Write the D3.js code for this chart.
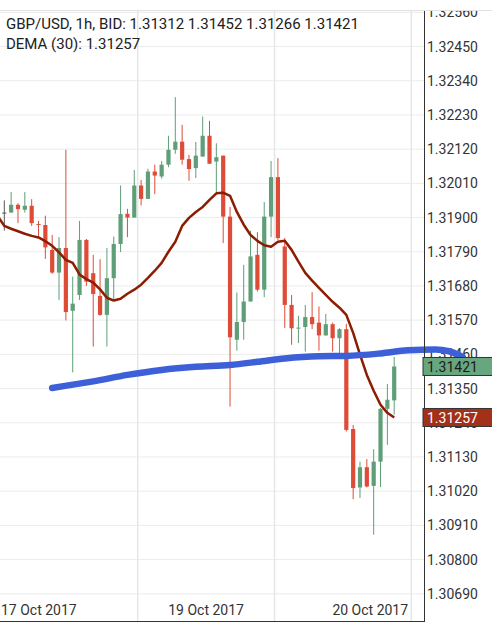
<!DOCTYPE html>
<html>
<head>
<meta charset="utf-8">
<script src="https://cdn.jsdelivr.net/npm/d3@7"></script>
<style>
  body { margin: 0; background: #fff; }
  svg { display: block; font-family: Roboto, "Noto Sans", sans-serif; }
</style>
</head>
<body>
<svg id="chart" width="492" height="625"></svg>
<script>
// GBP/USD 1h candles, first visible one starts 17 Oct 2017 18:00
const open = [1.31916,1.31916,1.31941,1.31925,1.31938,1.31879,1.31876,1.31796,1.31723,1.31802,
  1.31600,1.31651,1.31828,1.31721,1.31648,1.31587,1.31705,1.31815,1.31912,1.31900,
  1.32003,1.31960,1.32048,1.32032,1.32070,1.32118,1.32144,1.32088,1.32059,1.32096,
  1.32163,1.32080,1.32099,1.31903,1.31507,1.31564,1.31630,1.31780,1.31668,1.31903,
  1.32030,1.31807,1.31619,1.31544,1.31548,1.31580,1.31562,1.31521,1.31557,1.31512,
  1.31541,1.31220,1.31032,1.31097,1.31037,1.31115,1.31285,1.31312];
const high = [1.31955,1.31982,1.31946,1.31982,1.31959,1.31889,1.31906,1.31844,1.31837,1.32118,
  1.31710,1.31889,1.31831,1.31780,1.31766,1.31802,1.31839,1.32003,1.31928,1.32053,
  1.32021,1.32057,1.32070,1.32082,1.32163,1.32287,1.32198,1.32102,1.32143,1.32225,
  1.32211,1.32139,1.32099,1.31934,1.31659,1.31748,1.31858,1.31853,1.31950,1.32082,
  1.32091,1.31834,1.31651,1.31584,1.31619,1.31660,1.31614,1.31590,1.31562,1.31544,
  1.31558,1.31233,1.31115,1.31123,1.31155,1.31287,1.31365,1.31452];
const low = [1.31858,1.31916,1.31882,1.31916,1.31873,1.31834,1.31767,1.31719,1.31635,1.31569,
  1.31402,1.31635,1.31680,1.31485,1.31584,1.31485,1.31638,1.31789,1.31837,1.31900,
  1.31939,1.31960,1.31975,1.32025,1.32062,1.32105,1.32070,1.32018,1.32027,1.32096,
  1.32073,1.31973,1.31818,1.31292,1.31472,1.31507,1.31630,1.31662,1.31644,1.31837,
  1.31828,1.31545,1.31491,1.31496,1.31469,1.31541,1.31472,1.31520,1.31469,1.31464,
  1.31212,1.30994,1.30998,1.31032,1.30880,1.31033,1.31169,1.31266];
const close = [1.31916,1.31941,1.31927,1.31938,1.31882,1.31876,1.31804,1.31723,1.31802,1.31596,
  1.31623,1.31828,1.31694,1.31654,1.31587,1.31705,1.31815,1.31911,1.31900,1.32003,
  1.31960,1.32048,1.32035,1.32070,1.32118,1.32144,1.32086,1.32056,1.32099,1.32163,
  1.32073,1.32094,1.31903,1.31515,1.31564,1.31630,1.31775,1.31668,1.31903,1.32030,
  1.31834,1.31619,1.31544,1.31546,1.31580,1.31557,1.31521,1.31557,1.31512,1.31541,
  1.31217,1.31030,1.31097,1.31035,1.31115,1.31285,1.31314,1.31421];

// DEMA(30), starts one hour before the first visible candle
const dema = [1.31906,1.31873,1.31864,1.31856,1.31848,1.31841,1.31836,1.31824,1.31809,1.31788,
  1.31764,1.31754,1.31717,1.31702,1.31691,1.31669,1.31642,1.31633,1.31639,1.31655,
  1.31668,1.31684,1.31706,1.31729,1.31754,1.31790,1.31822,1.31873,1.31899,1.31918,
  1.31934,1.31957,1.31978,1.31980,1.31970,1.31918,1.31877,1.31844,1.31825,1.31811,
  1.31806,1.31822,1.31825,1.31796,1.31758,1.31722,1.31697,1.31674,1.31651,1.31629,
  1.31610,1.31587,1.31529,1.31459,1.31394,1.31343,1.31298,1.31272,1.31257];

// slow blue average (shifted forward), candle offset -> value
const slowIdx = [7, 13, 18, 23, 28, 33, 37, 41, 46, 50, 55, 59, 63, 65, 67];
const slowVal = [1.31352,1.31373,1.31394,1.31410,1.31420,1.31426,1.31436,1.31447,1.31454,1.31455,
  1.31463,1.31473,1.31476,1.31470,1.31452];

const yTicks = ["1.32560","1.32450","1.32340","1.32230","1.32120","1.32010","1.31900","1.31790","1.31680",
  "1.31570","1.31460","1.31350","1.31240","1.31130","1.31020","1.30910","1.30800","1.30690"];
const dayLabels = ["17 Oct 2017", "19 Oct 2017", "20 Oct 2017"];
const dayDates = ["2017-10-17T00:00Z", "2017-10-19T00:00Z", "2017-10-20T00:00Z"];
const gridDates = ["2017-10-18T14:00Z", "2017-10-19T10:00Z", "2017-10-20T06:00Z"];

const hour = 3600e3;
const t0 = Date.UTC(2017, 9, 17, 18);
const mid = i => new Date(t0 + (i + 0.5) * hour);

const svg = d3.select("#chart");
const axisX = 424.5, axisY = 621.5, topY = 10;

// everything lives below the top border
svg.append("clipPath").attr("id", "area")
  .append("rect").attr("x", 0).attr("y", topY).attr("width", 492).attr("height", 625 - topY);
const g = svg.append("g").attr("clip-path", "url(#area)");

const x = d3.scaleUtc()
  .domain([mid(0), mid(57)])
  .range([4.3, 394.2]);
const y = d3.scaleLinear()
  .domain([1.30690, 1.32560])
  .range([593.8, 12.3]);

const green = "#5f9e78", red = "#de4c38";

// grid
g.append("g").selectAll("line").data(yTicks).join("line")
  .attr("x1", 0).attr("x2", axisX)
  .attr("y1", d => y(+d)).attr("y2", d => y(+d))
  .attr("stroke", "#ececec").attr("stroke-width", 1);
g.append("g").selectAll("line").data(gridDates).join("line")
  .attr("x1", d => x(new Date(d))).attr("x2", d => x(new Date(d)))
  .attr("y1", 0).attr("y2", axisY)
  .attr("stroke", "#e6e6e6").attr("stroke-width", 1.5);
svg.append("line").attr("x1", 0).attr("x2", 492).attr("y1", topY + 0.5).attr("y2", topY + 0.5)
  .attr("stroke", "#e2e2e2").attr("stroke-width", 1);

// right axis labels
g.append("g").selectAll("text").data(yTicks).join("text")
  .attr("x", 427).attr("y", d => y(+d)).attr("dy", "0.36em")
  .attr("font-size", 14).attr("fill", "#333")
  .text(d => d);

// bottom labels
g.append("g").selectAll("text").data(dayLabels).join("text")
  .attr("y", 615).attr("font-size", 14).attr("fill", "#333")
  .text(d => d)
  .each(function(d, i) {
    const cx = x(new Date(dayDates[i]));
    const w = this.getComputedTextLength();
    if (cx - w / 2 < 0) d3.select(this).attr("x", 1).attr("text-anchor", "start");
    else d3.select(this).attr("x", cx).attr("text-anchor", "middle");
  });

// candles
const candles = open.map((o, i) => ({ t: mid(i), o, h: high[i], l: low[i], c: close[i] }));
const col = d => d.c > d.o ? green : d.c < d.o ? red : "#555";
const cg = g.append("g").selectAll("g").data(candles).join("g");
cg.append("line")
  .attr("x1", d => x(d.t)).attr("x2", d => x(d.t))
  .attr("y1", d => y(d.h)).attr("y2", d => y(d.l))
  .attr("stroke", col).attr("stroke-width", 1);
cg.append("rect")
  .attr("x", d => x(d.t) - 2.1).attr("width", 4.2)
  .attr("y", d => y(Math.max(d.o, d.c)))
  .attr("height", d => Math.max(1, Math.abs(y(d.o) - y(d.c))))
  .attr("fill", col);

// DEMA
g.append("path")
  .datum(dema)
  .attr("fill", "none").attr("stroke", "#8c1c02").attr("stroke-width", 2.5)
  .attr("stroke-linejoin", "round")
  .attr("d", d3.line().x((d, i) => x(mid(i - 1))).y(d => y(d)));

// slow average
g.append("path")
  .datum(slowIdx.map((k, i) => [k, slowVal[i]]))
  .attr("fill", "none").attr("stroke", "#3d60d8").attr("stroke-width", 6.5)
  .attr("stroke-linecap", "round")
  .attr("d", d3.line().curve(d3.curveMonotoneX).x(d => x(mid(d[0]))).y(d => y(d[1])));

// axis lines
g.append("line").attr("x1", axisX).attr("x2", axisX).attr("y1", topY).attr("y2", axisY + 0.5)
  .attr("stroke", "#333").attr("stroke-width", 1);
g.append("line").attr("x1", 0).attr("x2", axisX).attr("y1", axisY).attr("y2", axisY)
  .attr("stroke", "#333").attr("stroke-width", 1);

// value boxes
const boxes = [
  { v: close[close.length - 1], fill: "#67a67f", text: "#1a1a1a" },
  { v: dema[dema.length - 1], fill: "#a3311a", text: "#fff" }
];
const bg = g.append("g").selectAll("g").data(boxes).join("g");
bg.append("rect")
  .attr("x", 423).attr("width", 75).attr("y", d => y(d.v) - 9).attr("height", 18)
  .attr("fill", d => d.fill).attr("stroke", "#333").attr("stroke-width", 1);
bg.append("text")
  .attr("x", 427).attr("y", d => y(d.v)).attr("dy", "0.36em")
  .attr("font-size", 14).attr("fill", d => d.text)
  .text(d => d.v.toFixed(5));

// header
const last = candles[candles.length - 1];
g.append("text").attr("x", 6).attr("y", 29.3).attr("font-size", 15).attr("fill", "#212121")
  .text(`GBP/USD, 1h, BID: ${[last.o, last.h, last.l, last.c].map(v => v.toFixed(5)).join(" ")}`);
g.append("text").attr("x", 6).attr("y", 48.5).attr("font-size", 15).attr("fill", "#212121")
  .text(`DEMA (30): ${dema[dema.length - 1].toFixed(5)}`);
</script>
</body>
</html>
